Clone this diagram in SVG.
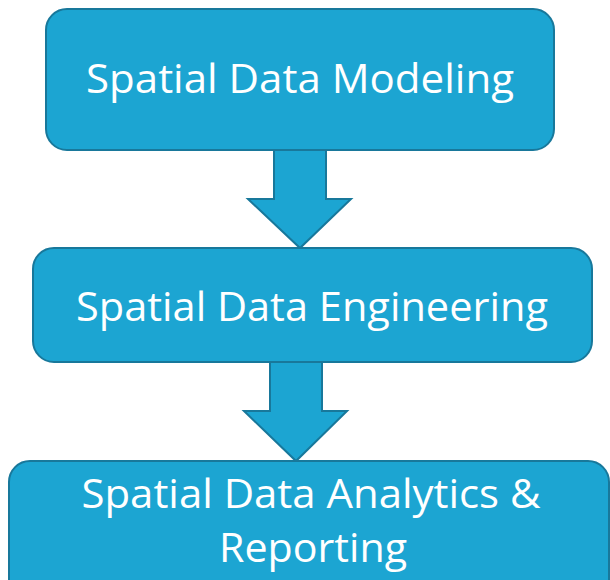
<svg xmlns="http://www.w3.org/2000/svg" width="610" height="580" viewBox="0 0 610 580">
  <style>
    .box { fill: #1ca5d2; stroke: #18789b; stroke-width: 2; }
    .arrow { fill: #1ca5d2; stroke: #18789b; stroke-width: 2; stroke-linejoin: miter; }
    .label { font-family: "Open Sans", "Noto Sans", "Liberation Sans", sans-serif; font-size: 40px; fill: #ffffff; text-anchor: middle; }
  </style>
  <rect width="610" height="580" fill="#ffffff"/>

  <!-- block arrows between stages -->
  <g id="connectors">
    <polygon class="arrow" points="274,150 326,150 326,199 351,199 300,248 248,199 274,199"/>
    <polygon class="arrow" points="270,362 322,362 322,411 347,411 296,461 244,411 270,411"/>
  </g>

  <g id="node-modeling">
    <rect class="box" x="46" y="9" width="508" height="141" rx="21"/>
    <text class="label" x="300" y="93" textLength="428" lengthAdjust="spacingAndGlyphs">Spatial Data Modeling</text>
  </g>

  <g id="node-engineering">
    <rect class="box" x="33" y="248" width="559" height="114" rx="21"/>
    <text class="label" x="312" y="321" textLength="472" lengthAdjust="spacingAndGlyphs">Spatial Data Engineering</text>
  </g>

  <g id="node-analytics">
    <rect class="box" x="9" y="461" width="600" height="140" rx="21"/>
    <text class="label" x="311" y="508" textLength="459" lengthAdjust="spacingAndGlyphs">Spatial Data Analytics &amp;</text>
    <text class="label" x="313" y="562" textLength="188" lengthAdjust="spacingAndGlyphs">Reporting</text>
  </g>
</svg>
